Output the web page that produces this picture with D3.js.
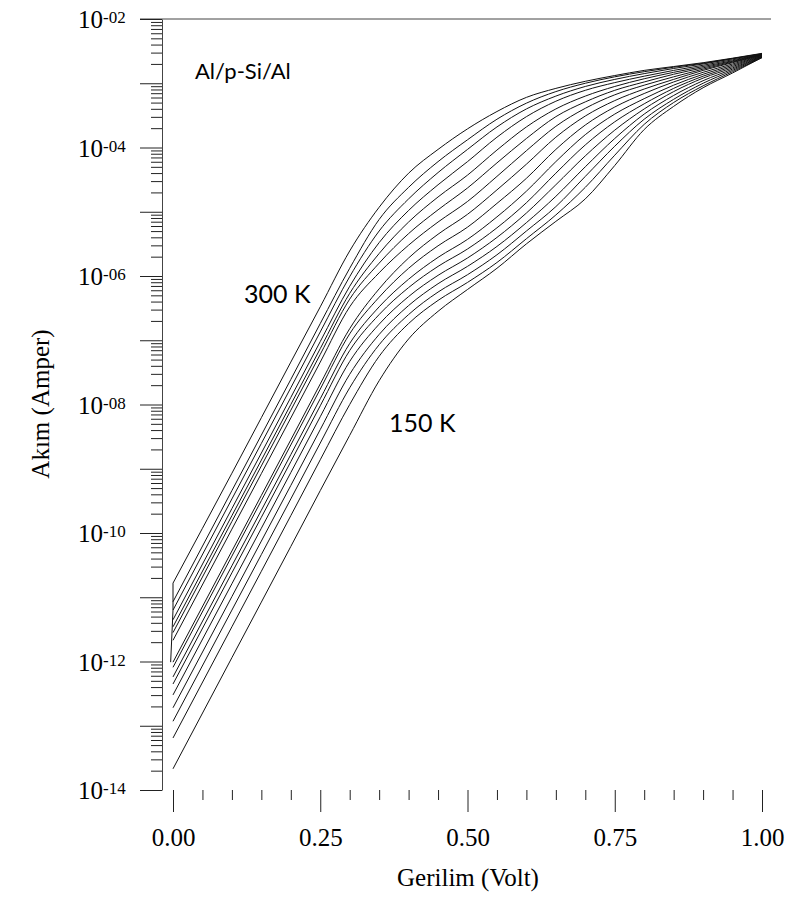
<!DOCTYPE html>
<html>
<head>
<meta charset="utf-8">
<script src="https://cdn.jsdelivr.net/npm/d3@7/dist/d3.min.js"></script>
<style>
  body { margin: 0; background: #fff; }
</style>
</head>
<body>
<div id="chart"></div>
<script>
// voltage grid (V) shared by all curves
var voltage = [0, 0.1, 0.2, 0.25, 0.3, 0.35, 0.4, 0.45, 0.5, 0.55, 0.6, 0.65, 0.7, 0.75, 0.8, 0.85, 0.9, 0.95, 1.0];

var temps = [300, 290, 280, 270, 260, 250, 240, 230, 220, 210, 200, 190, 180, 170, 160, 150];

// log10 of current (A)
var logI_300 = [-10.78, -9.07, -7.34, -6.48, -5.61, -4.93, -4.40, -4.03, -3.71, -3.44, -3.22, -3.08, -2.97, -2.88, -2.80, -2.74, -2.68, -2.61, -2.535];
var logI_290 = [-11.07, -9.34, -7.61, -6.74, -5.88, -5.12, -4.62, -4.22, -3.88, -3.56, -3.31, -3.13, -3.00, -2.90, -2.82, -2.75, -2.69, -2.615, -2.54];
var logI_280 = [-11.20, -9.47, -7.74, -6.87, -6.01, -5.30, -4.80, -4.39, -4.03, -3.68, -3.40, -3.20, -3.05, -2.94, -2.85, -2.77, -2.70, -2.62, -2.545];
var logI_270 = [-11.35, -9.62, -7.89, -7.02, -6.16, -5.48, -4.98, -4.58, -4.22, -3.84, -3.52, -3.28, -3.11, -2.99, -2.89, -2.80, -2.72, -2.635, -2.55];
var logI_260 = [-11.46, -9.73, -8.00, -7.13, -6.27, -5.65, -5.16, -4.77, -4.43, -4.04, -3.68, -3.40, -3.20, -3.05, -2.93, -2.83, -2.74, -2.65, -2.55];
var logI_250 = [-11.55, -9.82, -8.09, -7.22, -6.36, -5.80, -5.34, -4.97, -4.63, -4.24, -3.86, -3.52, -3.29, -3.11, -2.98, -2.86, -2.76, -2.66, -2.555];
var logI_240 = [-11.67, -9.94, -8.21, -7.34, -6.48, -5.95, -5.52, -5.16, -4.84, -4.45, -4.05, -3.67, -3.39, -3.18, -3.03, -2.90, -2.78, -2.67, -2.56];
var logI_230 = [-12.01, -10.28, -8.55, -7.68, -6.82, -6.20, -5.72, -5.35, -5.04, -4.66, -4.26, -3.84, -3.51, -3.27, -3.09, -2.94, -2.80, -2.68, -2.565];
var logI_220 = [-12.09, -10.36, -8.63, -7.76, -6.90, -6.33, -5.88, -5.53, -5.24, -4.87, -4.48, -4.03, -3.65, -3.37, -3.16, -2.98, -2.83, -2.70, -2.57];
var logI_210 = [-12.24, -10.51, -8.78, -7.91, -7.05, -6.48, -6.05, -5.71, -5.43, -5.08, -4.68, -4.22, -3.80, -3.48, -3.24, -3.03, -2.86, -2.72, -2.575];
var logI_200 = [-12.35, -10.62, -8.89, -8.02, -7.16, -6.60, -6.18, -5.85, -5.58, -5.25, -4.86, -4.40, -3.96, -3.60, -3.32, -3.08, -2.89, -2.74, -2.58];
var logI_190 = [-12.52, -10.79, -9.06, -8.19, -7.33, -6.75, -6.32, -5.99, -5.72, -5.40, -5.02, -4.58, -4.13, -3.73, -3.40, -3.13, -2.92, -2.76, -2.585];
var logI_180 = [-12.72, -10.99, -9.26, -8.39, -7.53, -6.91, -6.46, -6.12, -5.85, -5.54, -5.17, -4.76, -4.30, -3.86, -3.48, -3.19, -2.96, -2.78, -2.59];
var logI_170 = [-12.93, -11.20, -9.47, -8.60, -7.74, -7.07, -6.60, -6.25, -5.98, -5.67, -5.30, -4.92, -4.45, -3.98, -3.56, -3.25, -3.00, -2.80, -2.595];
var logI_160 = [-13.19, -11.46, -9.73, -8.86, -8.00, -7.25, -6.74, -6.38, -6.10, -5.79, -5.42, -5.05, -4.62, -4.12, -3.64, -3.30, -3.04, -2.82, -2.60];
var logI_150 = [-13.67, -11.94, -10.21, -9.34, -8.48, -7.63, -6.98, -6.55, -6.21, -5.88, -5.50, -5.15, -4.80, -4.28, -3.72, -3.36, -3.07, -2.84, -2.60];

// first readings of the 300 K sweep (small jump near 0 V)
var head300V = [-0.004, 0, 0];
var head300LogI = [-12.01, -11.20, -10.78];

var series = [logI_300, logI_290, logI_280, logI_270, logI_260, logI_250, logI_240, logI_230,
              logI_220, logI_210, logI_200, logI_190, logI_180, logI_170, logI_160, logI_150];

// tick values
var xMajorTicks = [0, 0.25, 0.5, 0.75, 1.0];
var xMinorTicks = [0.05, 0.1, 0.15, 0.2, 0.3, 0.35, 0.4, 0.45, 0.55, 0.6, 0.65, 0.7, 0.8, 0.85, 0.9, 0.95];
var yExponents = [-14, -13, -12, -11, -10, -9, -8, -7, -6, -5, -4, -3, -2];
var yLabelExponents = ["-14", "-12", "-10", "-08", "-06", "-04", "-02"];

var width = 798, height = 901;
var plot = { left: 162, right: 771, top: 19, bottom: 790 };

var svg = d3.select("#chart")
  .append("svg")
  .attr("width", width)
  .attr("height", height);

var x = d3.scaleLinear().domain([0, 1]).range([173, 762]);
var y = d3.scaleLog().domain([1e-14, 1e-2]).range([plot.bottom, plot.top]);

var serif = "'Liberation Serif', 'Times New Roman', serif";
var sans = "Lato, 'Open Sans', sans-serif";

// top frame line
svg.append("line")
  .attr("x1", 140).attr("x2", plot.right)
  .attr("y1", plot.top).attr("y2", plot.top)
  .attr("stroke", "#444").attr("stroke-width", 1);

// y axis - major ticks
var yMajor = d3.axisLeft(y)
  .tickValues(yExponents.map(function (e) { return Math.pow(10, e); }))
  .tickSize(22)
  .tickSizeOuter(0)
  .tickFormat("");
var gy = svg.append("g")
  .attr("transform", "translate(" + plot.left + ",0)")
  .call(yMajor);

// y axis - minor ticks
var yMinorVals = [];
yExponents.slice(0, -1).forEach(function (e) {
  for (var m = 2; m <= 9; m++) yMinorVals.push(m * Math.pow(10, e));
});
var gyMinor = svg.append("g")
  .attr("transform", "translate(" + plot.left + ",0)")
  .call(d3.axisLeft(y).tickValues(yMinorVals).tickSize(11).tickSizeOuter(0).tickFormat(""));
gyMinor.select(".domain").remove();

svg.selectAll(".domain").attr("stroke", "#444");
svg.selectAll(".tick line").attr("stroke", "#222");

// y tick labels 10^-xx
yLabelExponents.forEach(function (e) {
  var t = svg.append("text")
    .attr("x", 78)
    .attr("y", y(Math.pow(10, +e)) + 9)
    .style("font-family", serif)
    .style("font-size", "25px")
    .attr("fill", "#000");
  t.append("tspan").text("10");
  t.append("tspan")
    .attr("dy", -5)
    .style("font-size", "17px")
    .text(e);
});

// x axis (ticks only, no base line)
var gx = svg.append("g")
  .attr("transform", "translate(0," + plot.bottom + ")")
  .call(d3.axisBottom(x).tickValues(xMajorTicks).tickSize(22).tickSizeOuter(0)
    .tickFormat(d3.format(".2f")));
gx.select(".domain").remove();
gx.selectAll(".tick line").attr("stroke", "#222");
gx.selectAll(".tick text")
  .attr("y", 38)
  .attr("dy", "0.71em")
  .style("font-family", serif)
  .style("font-size", "25px")
  .attr("fill", "#000");

var gxMinor = svg.append("g")
  .attr("transform", "translate(0," + plot.bottom + ")")
  .call(d3.axisBottom(x).tickValues(xMinorTicks).tickSize(10).tickSizeOuter(0).tickFormat(""));
gxMinor.select(".domain").remove();
gxMinor.selectAll(".tick line").attr("stroke", "#222");

// axis titles
svg.append("text")
  .attr("x", 468)
  .attr("y", 886)
  .attr("text-anchor", "middle")
  .style("font-family", serif)
  .style("font-size", "25px")
  .text("Gerilim (Volt)");

svg.append("text")
  .attr("transform", "translate(49,404) rotate(-90)")
  .attr("text-anchor", "middle")
  .style("font-family", serif)
  .style("font-size", "25px")
  .text("Akım (Amper)");

// curves
var line = d3.line()
  .x(function (d) { return x(d[0]); })
  .y(function (d) { return y(d[1]); })
  .curve(d3.curveMonotoneX);

var gCurves = svg.append("g");

gCurves.selectAll("path.iv")
  .data(series)
  .enter()
  .append("path")
  .attr("class", "iv")
  .attr("d", function (s) {
    return line(voltage.map(function (v, i) { return [v, Math.pow(10, s[i])]; }));
  })
  .attr("fill", "none")
  .attr("stroke", "#111")
  .attr("stroke-width", 1);

// start of the 300 K sweep, straight segments
gCurves.append("path")
  .attr("d", d3.line()
    .x(function (d) { return x(d[0]); })
    .y(function (d) { return y(d[1]); })(head300V.map(function (v, i) { return [v, Math.pow(10, head300LogI[i])]; })))
  .attr("fill", "none")
  .attr("stroke", "#111")
  .attr("stroke-width", 1);

// annotations
svg.append("text")
  .attr("x", 195).attr("y", 79)
  .style("font-family", sans).style("font-size", "22px")
  .text("Al/p-Si/Al");

svg.append("text")
  .attr("x", 244).attr("y", 303)
  .style("font-family", sans).style("font-size", "25px")
  .text(temps[0] + " K");

svg.append("text")
  .attr("x", 389).attr("y", 432)
  .style("font-family", sans).style("font-size", "25px")
  .text(temps[temps.length - 1] + " K");
</script>
</body>
</html>
